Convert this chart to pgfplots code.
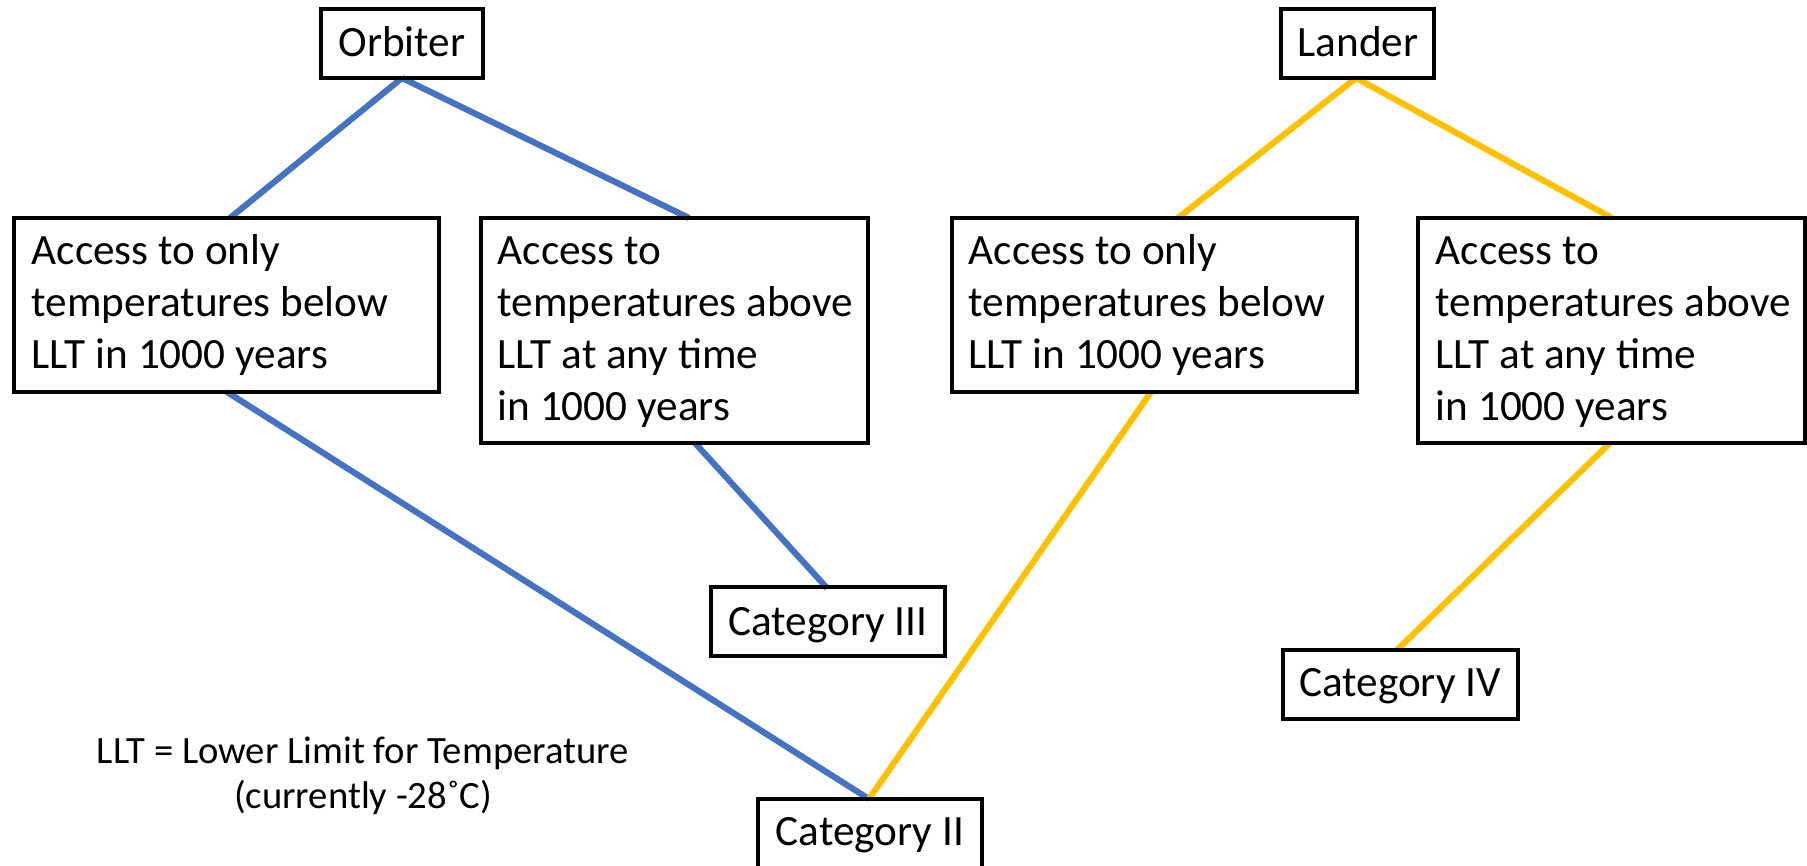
\documentclass[border=0pt]{standalone}
\usepackage{pgfplots}
\pgfplotsset{compat=1.18}
\usepackage{fontspec}
\setmainfont{Carlito}
\definecolor{obblue}{HTML}{4472C4}
\definecolor{lgold}{HTML}{FFC000}
\begin{document}
\begin{tikzpicture}
\begin{axis}[scale only axis, width=18.07cm, height=8.66cm,
  xmin=0, xmax=1807, ymin=0, ymax=866, y dir=reverse,
  hide axis, clip=false]
% connector lines (orbiter)
\pgfplotsset{ln/.style={line width=1.75pt}}
\addplot[obblue, ln] coordinates {(402,78) (230,218)};
\addplot[obblue, ln] coordinates {(402,78) (689,218)};
\addplot[obblue, ln] coordinates {(227,392) (869,799)};
\addplot[obblue, ln] coordinates {(695,443) (827,588)};
% connector lines (lander)
\addplot[lgold, ln] coordinates {(1356,78) (1178,218)};
\addplot[lgold, ln] coordinates {(1356,78) (1612,218)};
\addplot[lgold, ln] coordinates {(1151,392) (869,799)};
\addplot[lgold, ln] coordinates {(1610,443) (1397,650)};
% boxes
\pgfplotsset{boxstyle/.style={black, line width=1.1pt, line cap=rect, line join=miter}}
\addplot[boxstyle] coordinates {(321,9) (483,9) (483,78) (321,78) (321,9)};
\addplot[boxstyle] coordinates {(1281,9) (1434,9) (1434,78) (1281,78) (1281,9)};
\addplot[boxstyle] coordinates {(14,218) (439,218) (439,392) (14,392) (14,218)};
\addplot[boxstyle] coordinates {(481,218) (868,218) (868,443) (481,443) (481,218)};
\addplot[boxstyle] coordinates {(952,218) (1357,218) (1357,392) (952,392) (952,218)};
\addplot[boxstyle] coordinates {(1418,218) (1805,218) (1805,443) (1418,443) (1418,218)};
\addplot[boxstyle] coordinates {(711,587) (945,587) (945,656) (711,656) (711,587)};
\addplot[boxstyle] coordinates {(1283,650) (1518,650) (1518,719) (1283,719) (1283,650)};
\addplot[boxstyle] coordinates {(758,900) (758,799) (982,799) (982,900)};
% texts
\tikzset{bt/.style={font=\fontsize{12.3}{14}\selectfont, inner sep=0pt, anchor=base west},
         ct/.style={font=\fontsize{12.3}{14}\selectfont, inner sep=0pt, anchor=base},
         lt/.style={font=\fontsize{11}{13}\selectfont, inner sep=0pt, anchor=base}}
\node[ct] at (axis cs:402,57) {Orbiter};
\node[ct] at (axis cs:1358,57) {Lander};
\node[bt] at (axis cs:31,265) {Access to only};
\node[bt] at (axis cs:31,317) {temperatures below};
\node[bt] at (axis cs:31,369) {LLT in 1000 years};
\node[bt] at (axis cs:497,265) {Access to};
\node[bt] at (axis cs:497,317) {temperatures above};
\node[bt] at (axis cs:497,369) {LLT at any time};
\node[bt] at (axis cs:497,421) {in 1000 years};
\node[bt] at (axis cs:968,265) {Access to only};
\node[bt] at (axis cs:968,317) {temperatures below};
\node[bt] at (axis cs:968,369) {LLT in 1000 years};
\node[bt] at (axis cs:1435,265) {Access to};
\node[bt] at (axis cs:1435,317) {temperatures above};
\node[bt] at (axis cs:1435,369) {LLT at any time};
\node[bt] at (axis cs:1435,421) {in 1000 years};
\node[ct] at (axis cs:828,635) {Category III};
\node[ct] at (axis cs:1400,696) {Category IV};
\node[ct] at (axis cs:870,845) {Category II};
\node[lt] at (axis cs:363,763) {LLT = Lower Limit for Temperature};
\node[lt] at (axis cs:363,808) {(currently -28˚C)};
\end{axis}
\pgfresetboundingbox
\path (current axis.south west) rectangle (current axis.north east);
\end{tikzpicture}
\end{document}
